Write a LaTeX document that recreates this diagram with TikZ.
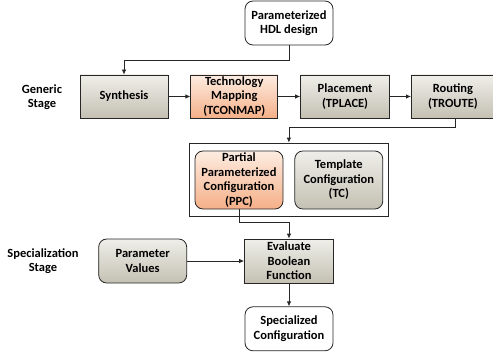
\documentclass[tikz,border=0pt]{standalone}
\usepackage{fontspec}
\setmainfont{Carlito}
\usetikzlibrary{positioning,arrows.meta,fit}

\definecolor{grayTop}{HTML}{EFEEE9}
\definecolor{grayBot}{HTML}{C4C1B3}
\definecolor{orTop}{HTML}{FDECE1}
\definecolor{orBot}{HTML}{F5B088}

\begin{document}
\begin{tikzpicture}[x=1pt,y=1pt,
  font=\fontsize{12.5}{14.5}\selectfont\bfseries,
  box/.style={draw=black!85, line width=0.8pt, align=center,
    minimum width=88pt, minimum height=43pt, inner sep=0pt},
  gen/.style={box, top color=grayTop, bottom color=grayBot},
  tmp/.style={box, top color=orTop, bottom color=orBot},
  io/.style={box, rounded corners=8pt, fill=white},
  arr/.style={-{Latex[length=5pt,width=4.5pt]}, line width=0.8pt, black!85},
  lab/.style={align=center}]
  \useasboundingbox (0,0) rectangle (493,-353);

  % Define nodes
  \node[io, minimum height=44pt]          (hdl)   at (289,-23) {Parameterized\\HDL design};
  \node[gen]                              (synth) at (124,-96.5) {Synthesis};
  \node[tmp, minimum width=87pt, right=22pt of synth] (tmap) {Technology\\Mapping\\(TCONMAP)};
  \node[gen, minimum width=89pt, right=22pt of tmap]  (place) {Placement\\(TPLACE)};
  \node[gen, minimum width=83pt, right=21pt of place] (route) {Routing\\(TROUTE)};

  \node[tmp, rounded corners=8pt, minimum height=58pt] (ppc) at (239,-180)
    {Partial\\Parameterized\\Configuration\\(PPC)};
  \node[gen, rounded corners=8pt, minimum height=58pt, right=11pt of ppc] (tc)
    {Template\\Configuration\\(TC)};
  \node[draw=black!85, line width=0.9pt, inner xsep=5.5pt, inner ysep=7.5pt,
    fit=(ppc)(tc)] (frame) {};

  \node[gen, minimum width=89pt, minimum height=44pt] (eval) at (289,-261)
    {Evaluate\\Boolean\\Function};
  \node[gen, rounded corners=8pt, minimum height=44pt, left=57pt of eval] (param)
    {Parameter\\Values};
  \node[io, minimum height=44pt, below=23pt of eval] (spec) {Specialized\\Configuration};

  \node[lab] (generic) at (42,-97)  {Generic\\Stage};
  \node[lab] (special) at (43,-261) {Specialization\\Stage};

  % Connect the nodes
  \draw[arr] (hdl.south) -- ++(0,-15) -| (synth.north);
  \draw[arr] (synth) -- (tmap);
  \draw[arr] (tmap) -- (place);
  \draw[arr] (place) -- (route);
  \draw[arr] ([xshift=2.5pt]route.south) -- ++(0,-9) -| (frame.north);
  \draw[arr] (ppc.south) -- ++(0,-13) -| (eval.north);
  \draw[arr] (param) -- (eval);
  \draw[arr] (eval) -- (spec);
\end{tikzpicture}
\end{document}
